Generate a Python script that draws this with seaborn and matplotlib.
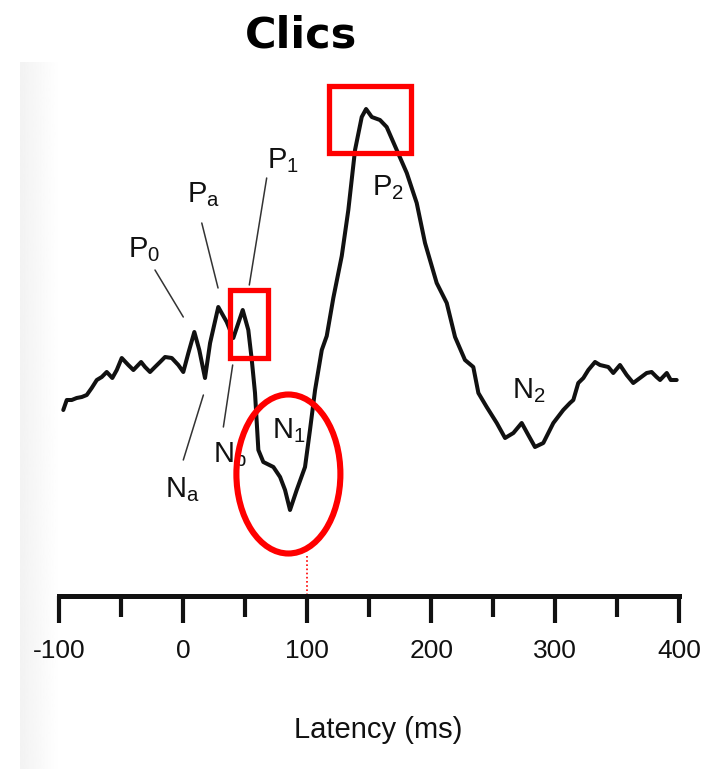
import numpy as np
import pandas as pd
import matplotlib
matplotlib.use("Agg")
import matplotlib.pyplot as plt
import seaborn as sns
from matplotlib.patches import Rectangle, Ellipse

# latency (ms) and amplitude (arbitrary units)
latency = [-96.5, -93.7, -89.7, -85.7, -81.6, -77.6, -73.6, -69.5, -65.5, -61.5,
           -57.0, -53.4, -49.4, -44.1, -40.0, -33.8, -30.6, -26.6, -22.6, -18.5,
           -14.5, -9.1, -3.8, 0.2, 4.3, 9.1, 13.1, 17.7, 21.8, 28.4,
           35.2, 40.5, 48.1, 52.6, 55.4, 58.0, 60.7, 64.7, 72.8, 78.2,
           82.2, 86.2, 91.6, 98.3, 102.3, 106.4, 111.8, 115.8, 121.1, 127.9,
           133.2, 138.6, 144.0, 147.5, 152.1, 158.7, 164.1, 172.2, 180.3, 188.3,
           195.0, 204.4, 212.5, 219.2, 227.2, 233.9, 238.0, 244.7, 252.8, 259.5,
           266.2, 272.9, 278.2, 283.6, 290.3, 298.4, 306.4, 311.8, 314.5, 318.5,
           322.6, 326.6, 332.0, 336.0, 342.7, 346.7, 352.1, 357.5, 362.8, 368.2,
           373.6, 377.6, 381.6, 384.4, 389.8, 393.0, 397.8]
amplitude = [-1.0, 0.0, 0.0, 0.2, 0.3, 0.5, 1.2, 2.0, 2.3, 2.8,
             2.2, 3.0, 4.2, 3.5, 3.0, 3.8, 3.3, 2.8, 3.3, 3.8,
             4.3, 4.2, 3.5, 2.8, 4.7, 6.8, 5.0, 2.2, 5.7, 9.3,
             7.8, 6.2, 9.0, 7.0, 4.0, 0.7, -5.0, -6.2, -6.7, -7.7,
             -9.0, -11.0, -9.0, -6.7, -3.0, 1.0, 5.0, 6.4, 10.2, 14.4,
             19.0, 25.0, 28.3, 29.1, 28.3, 28.0, 27.3, 25.0, 22.7, 19.7,
             15.7, 11.7, 9.7, 6.3, 4.0, 3.3, 0.7, -0.7, -2.3, -3.8,
             -3.3, -2.3, -3.5, -4.7, -4.3, -2.3, -1.0, -0.3, 0.0, 1.7,
             2.2, 3.0, 3.8, 3.5, 3.3, 2.7, 3.5, 2.5, 1.7, 2.2,
             2.7, 2.8, 2.3, 2.0, 2.7, 2.0, 2.0]

# component labels: name, subscript, label anchor, pointer line (or None)
comp_names = ["P", "P", "P", "N", "N", "N", "P", "N"]
comp_subs = ["0", "a", "1", "a", "b", "1", "2", "2"]
comp_pos = [(-44.3, 14.3), (3.2, 19.8), (67.7, 23.2), (-14.5, -9.7),
            (24.2, -6.2), (71.7, -3.8), (152.3, 20.5), (265.1, 0.2)]
comp_lines = [((-22.6, 0.2), (13.0, 8.3)), ((15.1, 28.2), (17.7, 11.2)),
              ((67.4, 53.4), (22.2, 11.5)), ((0.2, 16.4), (-6.0, 0.5)),
              ((32.5, 40.0), (-2.7, 3.5)), None, None, None]

x_ticks = [-100, 0, 100, 200, 300, 400]
x_minor = [-50, 50, 150, 250, 350]

df = pd.DataFrame({"latency": latency, "amplitude": amplitude})

sns.set_theme(style="white")
plt.rcParams["font.family"] = ["Liberation Sans Narrow", "Liberation Sans", "DejaVu Sans"]

fig = plt.figure(figsize=(7.02, 7.69), dpi=100)
ax = fig.add_axes([0, 0, 1, 1])
ax.set_xlim(-147.5, 418.2)
ax.set_ylim(-36.9, 40)

# faint edge of the scanned page
grad = np.linspace(0.95, 1.0, 64).reshape(1, -1)
ax.imshow(grad, cmap="gray", vmin=0, vmax=1, aspect="auto",
          extent=(20 / 702, 60 / 702, 0, 1 - 62 / 769),
          transform=ax.transAxes, zorder=0)

sns.lineplot(data=df, x="latency", y="amplitude", ax=ax, color="#111111",
             linewidth=2.9, solid_joinstyle="round", zorder=3)

for name, sub, (lx, ly), seg in zip(comp_names, comp_subs, comp_pos, comp_lines):
    ax.text(lx, ly, name + r"$_\mathregular{" + sub + "}$", fontsize=21,
            ha="left", va="baseline", color="#111111", zorder=4)
    if seg is not None:
        ax.plot(seg[0], seg[1], color="#333333", linewidth=1.1, zorder=2)

# red highlight marks
red = "#ff0000"
ax.add_patch(Rectangle((37.9, 4.2), 30.9, 6.8, fill=False, edgecolor=red,
                       linewidth=3.8, zorder=5))
ax.add_patch(Rectangle((117.6, 24.7), 66.1, 6.7, fill=False, edgecolor=red,
                       linewidth=3.8, zorder=5))
ax.add_patch(Ellipse((84.9, -7.4), 83.8, 15.9, fill=False, edgecolor=red,
                     linewidth=4.4, zorder=5))
ax.plot([100, 100], [-15.6, -19.4], color=red, linewidth=1.2,
        linestyle=(0, (1, 1.5)), zorder=5)

# latency axis
for side in ["top", "left", "right"]:
    ax.spines[side].set_visible(False)
ax.spines["bottom"].set_position(("data", -19.55))
ax.spines["bottom"].set_bounds(-100, 400)
ax.spines["bottom"].set_linewidth(3.6)
ax.spines["bottom"].set_color("#111111")
ax.set_xticks(x_ticks)
ax.set_xticks(x_minor, minor=True)
ax.set_xticklabels([str(t) for t in x_ticks])
ax.set_yticks([])
ax.tick_params(axis="x", which="major", direction="out", length=19.5, width=3,
               pad=12, labelsize=19, color="#111111", labelcolor="#111111", bottom=True)
ax.tick_params(axis="x", which="minor", direction="out", length=15, width=3,
               color="#111111", bottom=True)
ax.set_xlabel("")
ax.set_ylabel("")
ax.text(157.2, -33.8, "Latency (ms)", fontsize=21, ha="center", va="baseline",
        color="#111111")

fig.text(301 / 702, 1 - 48 / 769, "Clics", fontsize=31, fontweight="bold",
         family="DejaVu Sans", ha="center", va="baseline", color="black")

fig.savefig("out.png", dpi=100)
